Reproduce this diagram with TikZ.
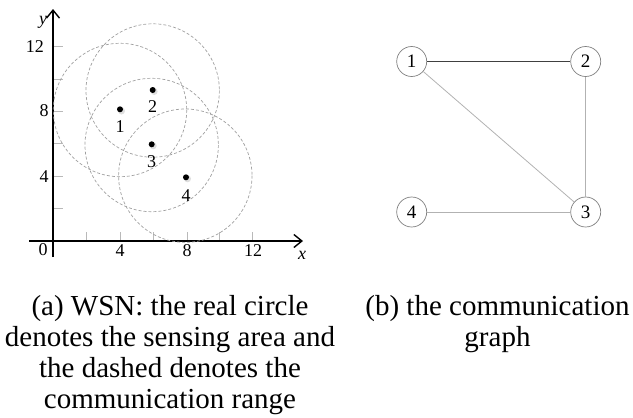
\documentclass[tikz,border=0pt]{standalone}
\usepackage{fontspec}
\setmainfont{Liberation Serif}
\usetikzlibrary{arrows.meta}
\begin{document}
\begin{tikzpicture}[x=1pt,y=-1pt,
  axis/.style={line width=1.4pt, -{Straight Barb[length=8pt,width=13pt,line width=1.4pt]}},
  tickmark/.style={gray!55, line width=0.8pt},
  commrange/.style={dash pattern=on 3pt off 2pt, gray!75, line width=0.7pt},
  sensor/.style={circle, fill=black, inner sep=0pt, minimum size=6pt},
  shadowdot/.style={circle, fill=gray!25, inner sep=0pt, minimum size=7pt},
  lbl/.style={font=\fontsize{18}{18}\selectfont, inner sep=0pt},
  vertex/.style={circle, draw=gray, line width=0.7pt, minimum size=30pt, inner sep=0pt, font=\fontsize{19}{19}\selectfont},
  strong/.style={draw=black!75, line width=1.8pt},
  weak/.style={draw=gray!60, line width=0.8pt},
  captiontext/.style={align=center, font=\fontsize{29}{31}\selectfont, inner sep=0pt}
]
\useasboundingbox (0,0) rectangle (633,418);

% ---------- (a) WSN plot ----------
\foreach \x in {86,120,153,187,219,252} \draw[tickmark] (\x,241) -- (\x,232);
\foreach \y in {208.6,176.2,143.8,111.4,79,46.6} \draw[tickmark] (53,\y) -- (63,\y);

\coordinate (xs) at (29,241);
\coordinate (xe) at (303,241);
\coordinate (ys) at (53,257);
\coordinate (ye) at (53,9);
\draw[axis] (xs) -- (xe);
\draw[axis] (ys) -- (ye);

\draw[commrange] (120,110) circle[radius=66.7];
\draw[commrange] (152.7,90.5) circle[radius=66.7];
\draw[commrange] (151.7,145) circle[radius=66.7];
\draw[commrange] (185.3,175.7) circle[radius=66.7];

\node[shadowdot] (h1) at (121.5,111) {};
\node[shadowdot] (h2) at (154.2,91.5) {};
\node[shadowdot] (h3) at (153.2,145.8) {};
\node[shadowdot] (h4) at (187.5,178.8) {};
\node[sensor] (s1) at (120,109.3) {};
\node[sensor] (s2) at (152.7,90) {};
\node[sensor] (s3) at (151.7,144.3) {};
\node[sensor] (s4) at (186,177.3) {};

\node[lbl] (l1) at (120,126.5) {1};
\node[lbl] (l2) at (152.7,106.7) {2};
\node[lbl] (l3) at (151.7,161.7) {3};
\node[lbl] (l4) at (186,195.5) {4};

\node[lbl, anchor=east] (y12) at (44,47) {12};
\node[lbl] (y8) at (44,111) {8};
\node[lbl] (y4) at (44,177) {4};
\node[lbl] (x0) at (43,250) {0};
\node[lbl] (x4) at (120,251) {4};
\node[lbl] (x8) at (187,251) {8};
\node[lbl] (x12) at (253,251) {12};
\node[lbl] (xl) at (302,255) {\itshape x};
\node[lbl] (yl) at (43,22) {\itshape y};

% ---------- (b) communication graph ----------
\node[vertex] (g1) at (411.7,61.5) {1};
\node[vertex] (g2) at (585.7,61.5) {2};
\node[vertex] (g3) at (585.7,212) {3};
\node[vertex] (g4) at (411.7,212) {4};
\draw[strong] (g1) -- (g2);
\draw[weak] (g1) -- (g3);
\draw[weak] (g2) -- (g3);
\draw[weak] (g4) -- (g3);

% ---------- captions (base = baseline of the last line) ----------
\node[captiontext, anchor=base] (capa) at (170,408) {(a) WSN: the real circle\\denotes the sensing area and\\the dashed denotes the\\communication range};
\node[captiontext, anchor=base] (capb) at (497.5,346) {(b) the communication\\graph};
\end{tikzpicture}
\end{document}
